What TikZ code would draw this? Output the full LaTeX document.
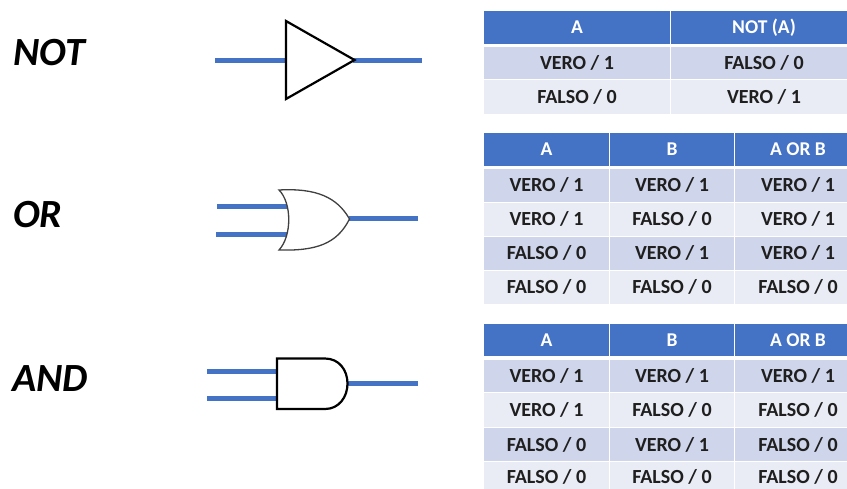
\documentclass[tikz,border=0pt]{standalone}
\usepackage{fontspec}
\setmainfont{Carlito}
\definecolor{hdr}{HTML}{4472C4}
\definecolor{rowa}{HTML}{CFD5EA}
\definecolor{rowb}{HTML}{E9EBF5}
\tikzset{
  cellbase/.style={anchor=center,inner sep=0pt,outer sep=0pt,draw=none,font=\fontsize{20}{22}\selectfont\bfseries},
  hdrcell/.style={cellbase,fill=hdr,text=white,font=\fontsize{19.5}{22}\selectfont\bfseries},
  acell/.style={cellbase,fill=rowa,text=black!88},
  bcell/.style={cellbase,fill=rowb,text=black!88},
  wire/.style={draw=hdr,line width=5pt},
  gate/.style={draw=black,line width=2.2pt,fill=white,line join=miter},
  orgate/.style={draw=black!75,line width=1.3pt,fill=white,line join=miter},
  title/.style={font=\fontsize{40}{44}\selectfont\bfseries\itshape,text=black,inner sep=0pt,anchor=west}
}
\newcommand{\tcell}[7]{% name,x0,y0,x1,y1,style,text
  \pgfmathsetmacro{\cw}{#4-#2}\pgfmathsetmacro{\ch}{#5-#3}
  \pgfmathsetmacro{\cx}{(#2+#4)/2}\pgfmathsetmacro{\cy}{(#3+#5)/2}
  \node[#6,minimum width=\cw pt,minimum height=\ch pt] (#1) at (\cx,\cy) {\raisebox{-1.2pt}{#7}};}
\begin{document}
\begin{tikzpicture}[x=1pt,y=-1pt]
\useasboundingbox (0,0) rectangle (847,488);
\clip (0,0) rectangle (847,488);
% titles
\node[title] (tnot) at (13,53) {NOT};
\node[title] (tor) at (13,215) {OR};
\node[title] (tand) at (12,379) {AND};
% NOT gate
\coordinate (nin) at (215,60);\coordinate (nl) at (286,60);
\coordinate (nr) at (353,60);\coordinate (nout) at (422,60);
\draw[wire] (nin) -- (nl);
\draw[wire] (nr) -- (nout);
\draw[gate] (286,21) -- (354.5,60) -- (286,99) -- cycle;
% OR gate
\coordinate (oa) at (217,206);\coordinate (oal) at (288,206);
\coordinate (ob) at (216,234);\coordinate (obl) at (287,234);
\coordinate (or) at (349,218.5);\coordinate (oout) at (418,218.5);
\draw[wire] (oa) -- (oal);
\draw[wire] (ob) -- (obl);
\draw[wire] (or) -- (oout);
\draw[orgate] (279,190) .. controls (292,203) and (292,236) .. (279,250)
  .. controls (316,251) and (337,244) .. (349.5,219)
  .. controls (337,197) and (316,188) .. (279,190) -- cycle;
% AND gate
\coordinate (aa) at (207,371);\coordinate (aal) at (277,371);
\coordinate (ab) at (207,398);\coordinate (abl) at (277,398);
\coordinate (ar) at (347,383);\coordinate (aout) at (418,383);
\draw[wire] (aa) -- (aal);
\draw[wire] (ab) -- (abl);
\draw[wire] (ar) -- (aout);
\draw[gate] (277,358.5) -- (325,358.5) .. controls (339,358.5) and (347.5,370) .. (347.5,383.5)
  .. controls (347.5,397) and (339,409) .. (325,409) -- (277,409) -- cycle;
% Table 1
\tcell{ah}{484}{11}{670}{43.5}{hdrcell}{A}
\tcell{bh}{671}{11}{857}{43.5}{hdrcell}{NOT (A)}
\tcell{a1}{484}{46.5}{670}{78.5}{acell}{VERO / 1}
\tcell{b1}{671}{46.5}{857}{78.5}{acell}{FALSO / 0}
\tcell{a2}{484}{79.5}{670}{114}{bcell}{FALSO / 0}
\tcell{b2}{671}{79.5}{857}{114}{bcell}{VERO / 1}
% Table 2
\tcell{c0}{484}{133}{609}{165.5}{hdrcell}{A}
\tcell{d0}{610}{133}{734}{165.5}{hdrcell}{B}
\tcell{e0}{735}{133}{861}{165.5}{hdrcell}{A OR B}
\tcell{c1}{484}{169}{609}{201.5}{acell}{VERO / 1}
\tcell{d1}{610}{169}{734}{201.5}{acell}{VERO / 1}
\tcell{e1}{735}{169}{861}{201.5}{acell}{VERO / 1}
\tcell{c2}{484}{202.5}{609}{235.5}{bcell}{VERO / 1}
\tcell{d2}{610}{202.5}{734}{235.5}{bcell}{FALSO / 0}
\tcell{e2}{735}{202.5}{861}{235.5}{bcell}{VERO / 1}
\tcell{c3}{484}{236.5}{609}{269.5}{acell}{FALSO / 0}
\tcell{d3}{610}{236.5}{734}{269.5}{acell}{VERO / 1}
\tcell{e3}{735}{236.5}{861}{269.5}{acell}{VERO / 1}
\tcell{c4}{484}{270.5}{609}{304}{bcell}{FALSO / 0}
\tcell{d4}{610}{270.5}{734}{304}{bcell}{FALSO / 0}
\tcell{e4}{735}{270.5}{861}{304}{bcell}{FALSO / 0}
% Table 3
\tcell{f0}{484}{323.5}{609}{356}{hdrcell}{A}
\tcell{g0}{610}{323.5}{734}{356}{hdrcell}{B}
\tcell{h0}{735}{323.5}{861}{356}{hdrcell}{A OR B}
\tcell{f1}{484}{359.5}{609}{392}{acell}{VERO / 1}
\tcell{g1}{610}{359.5}{734}{392}{acell}{VERO / 1}
\tcell{h1}{735}{359.5}{861}{392}{acell}{VERO / 1}
\tcell{f2}{484}{393}{609}{427}{bcell}{VERO / 1}
\tcell{g2}{610}{393}{734}{427}{bcell}{FALSO / 0}
\tcell{h2}{735}{393}{861}{427}{bcell}{FALSO / 0}
\tcell{f3}{484}{428}{609}{461}{acell}{FALSO / 0}
\tcell{g3}{610}{428}{734}{461}{acell}{VERO / 1}
\tcell{h3}{735}{428}{861}{461}{acell}{FALSO / 0}
\tcell{f4}{484}{462}{609}{491}{bcell}{FALSO / 0}
\tcell{g4}{610}{462}{734}{491}{bcell}{FALSO / 0}
\tcell{h4}{735}{462}{861}{491}{bcell}{FALSO / 0}
\end{tikzpicture}
\end{document}
